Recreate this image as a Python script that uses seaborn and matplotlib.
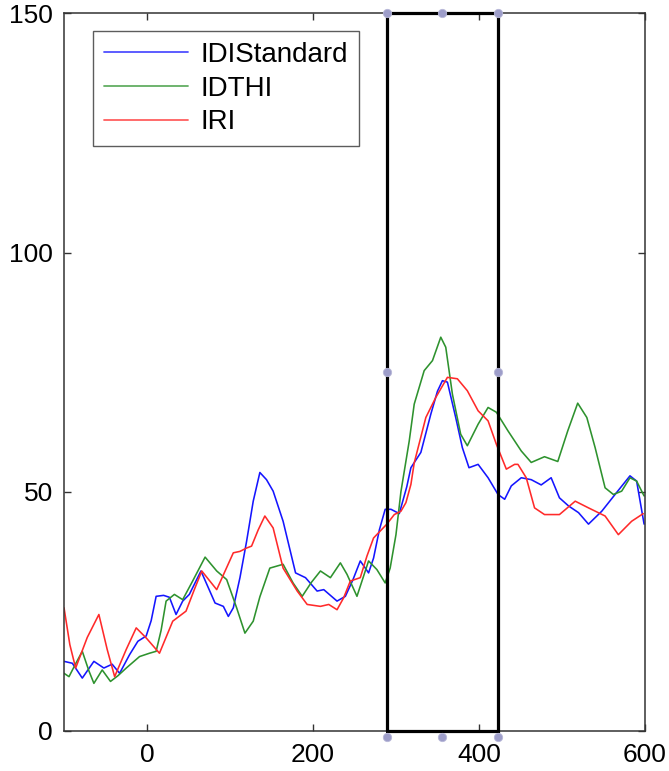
import numpy as np
import pandas as pd
import matplotlib
matplotlib.use("Agg")
import matplotlib.pyplot as plt
import seaborn as sns

# ---- data ----
idi_x = [-100, -90, -78, -64, -52, -42, -33, -21, -11, -1, 5, 11, 20, 27, 35, 43, 51, 65, 82, 92, 98, 104,
         112, 120, 128, 136, 144, 152, 164, 179, 191, 205, 213, 229, 239, 248, 257, 267, 273, 280, 287, 294,
         304, 313, 318, 330, 342, 350, 356, 362, 372, 380, 388, 399, 411, 423, 431, 439, 451, 463, 475, 487,
         497, 508, 520, 532, 548, 564, 582, 590, 599]
idi_y = [14.5, 14.1, 11.0, 14.5, 13.1, 13.9, 12.0, 15.9, 18.7, 19.8, 23.0, 28.1, 28.3, 27.9, 24.3, 27.1, 28.5,
         33.4, 26.7, 26.0, 23.9, 25.7, 32.0, 39.6, 48.0, 54.0, 52.5, 50.1, 43.8, 33.0, 32.0, 29.2, 29.5, 27.1,
         28.1, 31.5, 35.5, 33.0, 36.1, 42.0, 46.3, 46.3, 45.4, 51.0, 55.0, 58.2, 66.2, 71.0, 73.2, 72.9, 65.5,
         59.2, 55.0, 55.7, 52.9, 49.4, 48.4, 51.2, 52.9, 52.5, 51.4, 52.9, 48.7, 47.0, 45.6, 43.2, 45.9, 49.4,
         53.3, 52.2, 43.2]

idthi_x = [-100, -94, -86, -78, -70, -64, -54, -44, -35, -25, -9, 3, 11, 17, 23, 33, 43, 55, 70, 84, 96, 108,
           118, 128, 136, 148, 164, 176, 187, 198, 209, 221, 233, 241, 253, 267, 277, 287, 293, 300, 306, 316,
           322, 334, 344, 354, 360, 368, 378, 386, 399, 411, 421, 435, 443, 451, 463, 479, 495, 507, 519, 530,
           540, 552, 562, 572, 582, 590, 599]
idthi_y = [12.0, 11.3, 14.0, 16.6, 12.5, 9.9, 12.7, 10.3, 11.5, 13.1, 15.5, 16.2, 16.6, 21.0, 27.1, 28.5, 27.4,
           31.3, 36.3, 33.4, 31.6, 25.7, 20.4, 22.9, 28.0, 34.0, 34.8, 30.9, 28.1, 31.0, 33.4, 32.0, 35.1, 32.7,
           28.1, 35.5, 33.7, 30.9, 34.0, 41.0, 50.0, 60.6, 68.3, 75.3, 77.4, 82.3, 80.2, 70.4, 62.0, 59.6, 64.1,
           67.6, 66.6, 62.7, 60.6, 58.5, 56.1, 57.3, 56.3, 62.7, 68.5, 65.5, 59.2, 50.8, 49.4, 50.1, 52.9, 52.2,
           49.1]

iri_x = [-100, -93, -86, -72, -58, -48, -39, -25, -13, -1, 15, 31, 47, 57, 66, 84, 104, 112, 120, 126, 134, 142,
         152, 164, 181, 193, 209, 219, 229, 237, 245, 257, 265, 273, 289, 298, 306, 312, 318, 322, 336, 348,
         362, 374, 386, 399, 411, 421, 433, 443, 447, 457, 467, 479, 497, 516, 532, 552, 568, 584, 598]
iri_y = [25.7, 18.0, 13.1, 19.5, 24.3, 17.0, 11.3, 17.0, 21.5, 19.4, 16.2, 22.9, 25.0, 29.5, 33.4, 29.5, 37.2,
         37.5, 38.2, 38.6, 42.0, 44.9, 42.4, 34.0, 29.2, 26.4, 26.0, 26.4, 25.3, 27.8, 31.3, 32.0, 36.5, 40.3,
         43.2, 45.2, 45.9, 47.7, 51.5, 56.0, 65.5, 69.7, 73.9, 73.6, 71.1, 66.9, 64.8, 59.9, 54.7, 55.7, 55.7,
         52.9, 46.6, 45.2, 45.2, 48.0, 46.6, 44.9, 41.0, 43.8, 45.4]

series_names = ["IDIStandard", "IDTHI", "IRI"]
series_colors = ["#1515ff", "#2e922e", "#ff2a2a"]

sel_x = [289, 423]          # selection box (x range)
sel_y = [0, 150]            # selection box (y range)

x_ticks = [0, 200, 400, 600]
y_ticks = [0, 50, 100, 150]

# ---- build table ----
frames = []
for name, xs, ys in zip(series_names, [idi_x, idthi_x, iri_x], [idi_y, idthi_y, iri_y]):
    frames.append(pd.DataFrame({"x": xs, "y": ys, "series": name}))
df = pd.concat(frames, ignore_index=True)

sns.set_style("ticks")
plt.rcParams["font.family"] = ["Liberation Sans", "DejaVu Sans"]
plt.rcParams["text.color"] = "black"
plt.rcParams["xtick.color"] = "black"
plt.rcParams["ytick.color"] = "black"

fig = plt.figure(figsize=(6.69, 7.71), dpi=100)
ax = fig.add_axes([0.0957, 0.0523, 0.964 - 0.0957, 0.9825 - 0.0523])

sns.lineplot(data=df, x="x", y="y", hue="series", hue_order=series_names,
             palette=dict(zip(series_names, series_colors)), estimator=None,
             linewidth=1.15, ax=ax, legend=True)
for ln in ax.get_lines():
    ln.set_solid_joinstyle("round")
    ln.set_solid_capstyle("round")

ax.set_xlim(-100, 600)
ax.set_ylim(0, 150)
ax.set_xticks(x_ticks)
ax.set_yticks(y_ticks)
ax.set_xlabel("")
ax.set_ylabel("")
for s in ax.spines.values():
    s.set_visible(True)
    s.set_color("#333333")
    s.set_linewidth(1.1)
ax.tick_params(axis="both", direction="in", length=5, width=1.0, color="#333333",
               labelcolor="black", top=True, right=True, labelsize=19)
ax.tick_params(axis="x", pad=9)
ax.tick_params(axis="y", pad=8)

# selection rectangle
x0, x1 = sel_x
y0, y1 = sel_y
ax.plot([x0, x1, x1, x0, x0], [y0, y0, y1, y1, y0], color="black", lw=2.3,
        clip_on=False, zorder=5, solid_joinstyle="miter")
xm = (x0 + x1) / 2
ym = (y0 + y1) / 2
hx = [x0, xm, x1, x0, xm, x1, x0, x1]
hy = [y1, y1, y1, y0 - 1.3, y0 - 1.3, y0 - 1.3, ym, ym]
ax.plot(hx, hy, linestyle="none", marker="o", markersize=6, color="#9d9dc9",
        markeredgecolor="#b8b8d8", markeredgewidth=0.6, clip_on=False, zorder=6)

# legend
handles, labels = ax.get_legend_handles_labels()
leg = ax.legend(handles, labels, loc="upper left", bbox_to_anchor=(0.05, 0.976),
                fontsize=20, frameon=True, fancybox=False, edgecolor="#333333",
                handlelength=3.0, handletextpad=0.45, labelspacing=0.28,
                borderpad=0.4, borderaxespad=0.0)
leg.get_frame().set_linewidth(1.0)
for t in leg.get_texts():
    t.set_color("black")
for h in leg.get_lines():
    h.set_linewidth(1.3)
    h.set_alpha(0.75)

fig.savefig("out.png", dpi=100)
